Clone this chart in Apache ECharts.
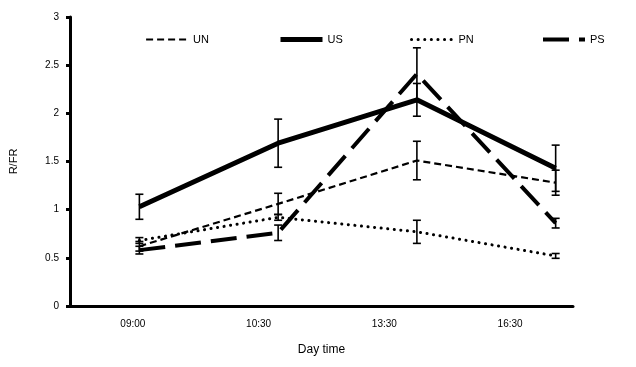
<!DOCTYPE html>
<html>
<head>
<meta charset="utf-8">
<script src="https://cdn.jsdelivr.net/npm/echarts@6/dist/echarts.min.js"></script>
<style>
html,body{margin:0;padding:0;background:#fff;}
#chart{width:636px;height:367px;}
</style>
</head>
<body>
<div id="chart"></div>
<script>
// 横轴时间
var categories = ['09:00', '10:30', '13:30', '16:30'];
// 各组均值和误差
var un = [0.62, 1.06, 1.51, 1.28];
var unErr = [0.05, 0.11, 0.20, 0.13];
var us = [1.03, 1.69, 2.14, 1.43];
var usErr = [0.13, 0.25, 0.17, 0.24];
var pn = [0.68, 0.92, 0.77, 0.52];
var pnErr = [0.03, 0.03, 0.12, 0.025];
var ps = [0.58, 0.76, 2.41, 0.86];
var psErr = [0.04, 0.08, 0.27, 0.05];
var yTicks = [0, 0.5, 1, 1.5, 2, 2.5, 3];

var font = 'Liberation Sans, Arial, sans-serif';

var unStyle = { color: '#000', width: 2.2, type: [7, 4] };
var usStyle = { color: '#000', width: 5 };
var pnStyle = { color: '#000', width: 3, type: [0.1, 6.5], cap: 'round' };
var psStyle = { color: '#000', width: 4, type: [26, 10], join: 'miter' };

function pts(vals) {
    return vals.map(function (v, i) { return [i + 1, v]; });
}
function errs(vals, e) {
    return vals.map(function (v, i) { return [i + 1, v - e[i], v + e[i]]; });
}
function renderErr(params, api) {
    var x = api.value(0);
    var lo = api.coord([x, api.value(1)]);
    var hi = api.coord([x, api.value(2)]);
    var w = 4;
    var st = { stroke: '#000', lineWidth: 1.6 };
    return {
        type: 'group',
        children: [
            { type: 'line', shape: { x1: lo[0], y1: lo[1], x2: hi[0], y2: hi[1] }, style: st },
            { type: 'line', shape: { x1: lo[0] - w, y1: lo[1], x2: lo[0] + w, y2: lo[1] }, style: st },
            { type: 'line', shape: { x1: hi[0] - w, y1: hi[1], x2: hi[0] + w, y2: hi[1] }, style: st }
        ]
    };
}
function lineSeries(name, vals, ls) {
    return {
        name: name,
        type: 'line',
        xAxisIndex: 1,
        symbol: 'none',
        data: pts(vals),
        lineStyle: ls,
        z: 3
    };
}
function errSeries(vals, e) {
    return {
        type: 'custom',
        xAxisIndex: 1,
        renderItem: renderErr,
        encode: { x: 0, y: [1, 2] },
        data: errs(vals, e),
        z: 4
    };
}
function legendAt(name, left, ls) {
    return {
        data: [name],
        left: left,
        top: 29,
        itemWidth: 42,
        itemHeight: 12,
        selectedMode: false,
        itemStyle: { opacity: 0 },
        lineStyle: ls,
        textStyle: { color: '#000', fontSize: 11, fontFamily: font }
    };
}

var myChart = echarts.init(document.getElementById('chart'));
var option = {
    backgroundColor: '#fff',
    animation: false,
    color: ['#000', '#000', '#000', '#000'],
    grid: { left: 69, right: 63, top: 17, bottom: 61 },
    legend: [
        legendAt('UN', 140, unStyle),
        legendAt('US', 273, usStyle),
        legendAt('PN', 405, pnStyle),
        legendAt('PS', 536, psStyle)
    ],
    xAxis: [{
        type: 'category',
        data: categories,
        boundaryGap: true,
        name: 'Day time',
        nameLocation: 'middle',
        nameGap: 38,
        nameTextStyle: { color: '#000', fontSize: 12, fontFamily: font },
        axisLine: { lineStyle: { color: '#000', width: 3 } },
        axisTick: { length: 5, lineStyle: { color: '#000', width: 3 } },
        axisLabel: { color: '#000', fontSize: 10, fontFamily: font, margin: 13 },
        splitLine: { show: false }
    }, {
        type: 'value',
        show: false,
        min: 0.5,
        max: 4.125
    }],
    yAxis: {
        type: 'value',
        min: yTicks[0],
        max: yTicks[yTicks.length - 1],
        interval: 0.5,
        name: 'R/FR',
        nameLocation: 'middle',
        nameGap: 51,
        nameTextStyle: { color: '#000', fontSize: 11, fontFamily: font },
        axisLine: { show: true, lineStyle: { color: '#000', width: 3 } },
        axisTick: { show: true, length: 4, lineStyle: { color: '#000', width: 3 } },
        axisLabel: { color: '#000', fontSize: 10, fontFamily: font, margin: 11 },
        splitLine: { show: false }
    },
    series: [
        lineSeries('UN', un, unStyle),
        lineSeries('US', us, usStyle),
        lineSeries('PN', pn, pnStyle),
        lineSeries('PS', ps, psStyle),
        errSeries(un, unErr),
        errSeries(us, usErr),
        errSeries(pn, pnErr),
        errSeries(ps, psErr)
    ]
};
myChart.setOption(option);
window.addEventListener('resize', function () {
    myChart.resize();
});
</script>
</body>
</html>
